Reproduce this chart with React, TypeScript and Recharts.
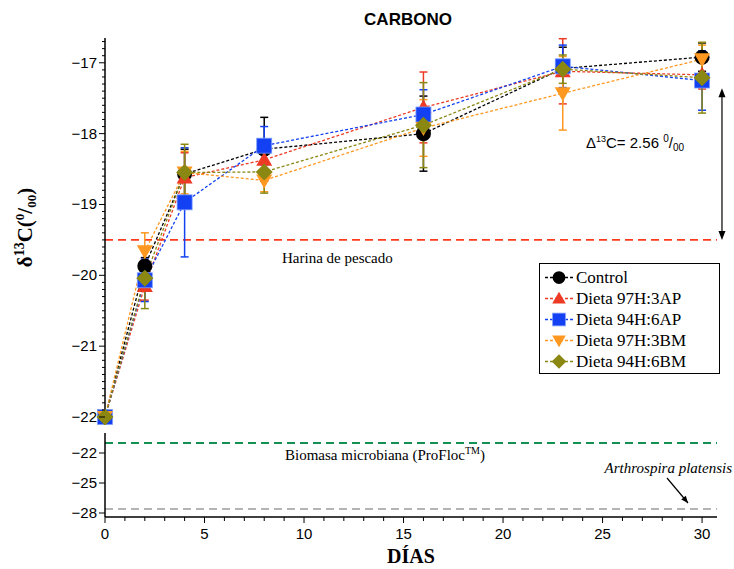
import React from 'react';
import { LineChart, Line, XAxis, YAxis, ReferenceLine, ErrorBar, Legend } from 'recharts';

// días de muestreo
const days = [0, 2, 4, 8, 16, 23, 30];

// valores de δ13C (‰) por dieta, con su desviación
const control = [-22.0, -19.87, -18.57, -18.22, -18.0, -17.08, -16.92];
const controlErr = [0, 0.12, 0.35, 0.45, 0.53, 0.3, 0.2];
const dieta97AP = [-22.0, -20.15, -18.62, -18.37, -17.63, -17.12, -17.17];
const dieta97APErr = [0, 0.2, 0.35, 0.2, 0.5, 0.46, 0.2];
const dieta94AP = [-22.0, -20.07, -18.97, -18.17, -17.73, -17.05, -17.25];
const dieta94APErr = [0, 0.3, 0.77, 0.27, 0.35, 0.3, 0.42];
const dieta97BM = [-22.0, -19.66, -18.55, -18.66, -17.92, -17.43, -16.95];
const dieta97BMErr = [0, 0.26, 0.3, 0.16, 0.4, 0.52, 0.2];
const dieta94BM = [-22.0, -20.04, -18.55, -18.54, -17.88, -17.09, -17.21];
const dieta94BMErr = [0, 0.43, 0.4, 0.3, 0.6, 0.2, 0.5];

// referencias de las fuentes de alimento
const harinaPescado = -19.5;
const biomasaMicrobiana = -21;
const arthrospira = -27.6;
const deltaTop = -17.36;
const deltaValue = '2.56';

const topMajorTicks = [-22, -21, -20, -19, -18, -17];
const bottomTicks = [-22, -25, -28];
const xMajorTicks = [0, 5, 10, 15, 20, 25, 30];

const SERIF = '"Liberation Serif", "Times New Roman", serif';
const SANS = '"Liberation Sans", Arial, Helvetica, sans-serif';

const series = [
  { key: 'control', name: 'Control', color: '#000000', shape: 'circle' },
  { key: 'd97ap', name: 'Dieta 97H:3AP', color: '#ec3a25', shape: 'triangle' },
  { key: 'd94ap', name: 'Dieta 94H:6AP', color: '#1240f2', shape: 'square' },
  { key: 'd97bm', name: 'Dieta 97H:3BM', color: '#ff9820', shape: 'down' },
  { key: 'd94bm', name: 'Dieta 94H:6BM', color: '#8a8712', shape: 'diamond' },
];

const data = days.map((day, i) => ({
  day,
  control: control[i], controlErr: controlErr[i],
  d97ap: dieta97AP[i], d97apErr: dieta97APErr[i],
  d94ap: dieta94AP[i], d94apErr: dieta94APErr[i],
  d97bm: dieta97BM[i], d97bmErr: dieta97BMErr[i],
  d94bm: dieta94BM[i], d94bmErr: dieta94BMErr[i],
}));

// minor ticks every 0.1 on the upper axis
const topTicks: number[] = [];
for (let v = -220; v <= -167; v++) topTicks.push(v / 10);
const xTicks: number[] = [];
for (let d = 0; d <= 30; d++) xTicks.push(d);

const minus = (v: number) => (v < 0 ? '\u2212' + Math.abs(v) : String(v));

const Marker = ({ shape, cx, cy, color, s = 1 }: any) => {
  if (cx == null || cy == null) return null;
  switch (shape) {
    case 'circle':
      return <circle cx={cx} cy={cy} r={7.5 * s} fill={color} />;
    case 'triangle':
      return <polygon points={`${cx},${cy - 8 * s} ${cx + 8 * s},${cy + 6 * s} ${cx - 8 * s},${cy + 6 * s}`} fill={color} />;
    case 'square':
      return <rect x={cx - 7.5 * s} y={cy - 7.5 * s} width={15 * s} height={15 * s} fill={color} stroke="#7d9cff" strokeWidth={0.8} />;
    case 'down':
      return <polygon points={`${cx - 8 * s},${cy - 6 * s} ${cx + 8 * s},${cy - 6 * s} ${cx},${cy + 8 * s}`} fill={color} />;
    default:
      return <polygon points={`${cx},${cy - 8.5 * s} ${cx + 8.5 * s},${cy} ${cx},${cy + 8.5 * s} ${cx - 8.5 * s},${cy}`} fill={color} />;
  }
};

const TopTick = ({ x, y, payload }: any) => {
  const v = payload.value;
  const major = topMajorTicks.includes(v);
  return (
    <g>
      <line x1={x - (major ? 6 : 3)} x2={x} y1={y} y2={y} stroke="#000" strokeWidth={1} />
      {major && (
        <text x={x - 8} y={y + 5} textAnchor="end" fontFamily={SANS} fontSize={15} fill="#000">
          {minus(v)}
        </text>
      )}
    </g>
  );
};

const BottomYTick = ({ x, y, payload }: any) => (
  <g>
    <line x1={x - 6} x2={x} y1={y} y2={y} stroke="#000" strokeWidth={1} />
    <text x={x - 8} y={y + 5} textAnchor="end" fontFamily={SANS} fontSize={15} fill="#000">
      {minus(payload.value)}
    </text>
  </g>
);

const XTick = ({ x, y, payload }: any) => {
  const major = xMajorTicks.includes(payload.value);
  return (
    <g>
      <line x1={x} x2={x} y1={y} y2={y + (major ? 6 : 4)} stroke="#000" strokeWidth={1} />
      {major && (
        <text x={x} y={y + 22} textAnchor="middle" fontFamily={SANS} fontSize={15} fill="#000">
          {payload.value}
        </text>
      )}
    </g>
  );
};

const YLabel = ({ viewBox }: any) => {
  const cx = 32;
  const cy = viewBox ? viewBox.y + viewBox.height / 2 : 228;
  return (
    <text x={cx} y={cy} transform={`rotate(-90 ${cx} ${cy})`} textAnchor="middle" fontFamily={SERIF} fontWeight="bold" fontSize={21} fill="#000">
      δ<tspan fontSize={14} dy={-8}>13</tspan>
      <tspan dy={8}>C(</tspan>
      <tspan fontSize={13} dy={-8}>0</tspan>
      <tspan dy={8}>/</tspan>
      <tspan fontSize={13} dy={4}>00</tspan>
      <tspan dy={-4}>)</tspan>
    </text>
  );
};

const XLabel = ({ viewBox }: any) => {
  if (!viewBox) return null;
  return (
    <text x={viewBox.x + viewBox.width / 2} y={viewBox.y + 46} textAnchor="middle" fontFamily={SERIF} fontWeight="bold" fontSize={20} fill="#000">
      DÍAS
    </text>
  );
};

const HarinaLabel = ({ viewBox }: any) => {
  if (!viewBox) return null;
  return (
    <text x={viewBox.x + 177} y={viewBox.y + 23} fontFamily={SERIF} fontSize={15} fill="#000">
      Harina de pescado
    </text>
  );
};

const BiomasaLabel = ({ viewBox }: any) => {
  if (!viewBox) return null;
  return (
    <text x={viewBox.x + 180} y={viewBox.y + 17} fontFamily={SERIF} fontSize={15} fill="#000">
      Biomasa microbiana (ProFloc<tspan fontSize={10} dy={-6}>TM</tspan>
      <tspan dy={6}>)</tspan>
    </text>
  );
};

const ArthrospiraLabel = ({ viewBox }: any) => {
  if (!viewBox) return null;
  const right = viewBox.x + viewBox.width;
  const y = viewBox.y;
  const ax1 = right - 50, ay1 = y - 31, ax2 = right - 29, ay2 = y - 6;
  const ang = Math.atan2(ay2 - ay1, ax2 - ax1);
  const hl = 7, hw = 3;
  const p1 = [ax2 - hl * Math.cos(ang) + hw * Math.sin(ang), ay2 - hl * Math.sin(ang) - hw * Math.cos(ang)];
  const p2 = [ax2 - hl * Math.cos(ang) - hw * Math.sin(ang), ay2 - hl * Math.sin(ang) + hw * Math.cos(ang)];
  return (
    <g>
      <text x={right + 15} y={y - 36} textAnchor="end" fontFamily={SERIF} fontStyle="italic" fontSize={15} fill="#000">
        Arthrospira platensis
      </text>
      <line x1={ax1} y1={ay1} x2={ax2} y2={ay2} stroke="#000" strokeWidth={1.2} />
      <polygon points={`${ax2},${ay2} ${p1[0]},${p1[1]} ${p2[0]},${p2[1]}`} fill="#000" />
    </g>
  );
};

const DeltaArrow = (props: any) => {
  const { x1, y1, y2 } = props;
  const top = Math.min(y1, y2);
  const bot = Math.max(y1, y2);
  const mid = (top + bot) / 2;
  return (
    <g>
      <line x1={x1} x2={x1} y1={top + 4} y2={bot - 4} stroke="#000" strokeWidth={1.2} />
      <polygon points={`${x1},${top} ${x1 - 3.5},${top + 9} ${x1 + 3.5},${top + 9}`} fill="#000" />
      <polygon points={`${x1},${bot} ${x1 - 3.5},${bot - 9} ${x1 + 3.5},${bot - 9}`} fill="#000" />
      <text x={x1 - 136} y={mid - 16} fontFamily={SANS} fontSize={15} fill="#000">
        Δ<tspan fontSize={9} dy={-6}>13</tspan>
        <tspan dy={6}>C= {deltaValue} </tspan>
        <tspan fontSize={10} dy={-6}>0</tspan>
        <tspan dy={6}>/</tspan>
        <tspan fontSize={10} dy={3}>00</tspan>
      </text>
    </g>
  );
};

const LegendBox = () => (
  <div style={{ width: 181, height: 111, border: '1.5px solid #000', boxSizing: 'border-box', background: '#fff', paddingTop: 3 }}>
    {series.map((s) => (
      <div key={s.key} style={{ display: 'flex', alignItems: 'center', height: 21 }}>
        <svg width={36} height={21} style={{ flex: 'none' }}>
          <line x1={5} x2={33} y1={10.5} y2={10.5} stroke={s.color} strokeWidth={1.3} strokeDasharray="3 2" />
          <Marker shape={s.shape} cx={19} cy={10.5} color={s.color} s={0.85} />
        </svg>
        <span style={{ fontFamily: SERIF, fontSize: 17, color: '#000', lineHeight: '21px', whiteSpace: 'nowrap' }}>{s.name}</span>
      </div>
    ))}
  </div>
);

export default function App() {
  return (
    <div style={{ position: 'absolute', left: 0, top: 0, width: 734, height: 569, background: '#fff', overflow: 'hidden' }}>
      <svg width={734} height={40} style={{ position: 'absolute', left: 0, top: 0 }}>
        <text x={408} y={25} textAnchor="middle" fontFamily={SANS} fontWeight="bold" fontSize={17} fill="#000">
          CARBONO
        </text>
      </svg>

      <div style={{ position: 'absolute', left: 0, top: 0 }}>
        <LineChart width={734} height={425} data={data} margin={{ top: 38, right: 17, bottom: 8, left: 0 }}>
          <XAxis dataKey="day" type="number" domain={[0, 30.75]} hide />
          <YAxis
            type="number"
            domain={[-22, -16.65]}
            ticks={topTicks}
            interval={0}
            width={105}
            tickSize={0}
            tickMargin={0}
            tickLine={false}
            tick={<TopTick />}
            axisLine={{ stroke: '#000', strokeWidth: 1.5 }}
            label={<YLabel />}
          />
          <ReferenceLine y={harinaPescado} stroke="#ff3a1c" strokeWidth={1.8} strokeDasharray="8 5" label={<HarinaLabel />} />
          <ReferenceLine
            segment={[{ x: 31, y: deltaTop }, { x: 31, y: harinaPescado }]}
            ifOverflow="visible"
            shape={DeltaArrow}
          />
          {series.map((s) => (
            <Line
              key={s.key}
              name={s.name}
              dataKey={s.key}
              type="linear"
              stroke={s.color}
              strokeWidth={1.3}
              strokeDasharray="3 2"
              isAnimationActive={false}
              activeDot={false}
              dot={(p: any) => <Marker key={`${s.key}-${p.index}`} shape={s.shape} cx={p.cx} cy={p.cy} color={s.color} />}
            >
              <ErrorBar dataKey={`${s.key}Err`} width={4} stroke={s.color} strokeWidth={1.5} direction="y" isAnimationActive={false} />
            </Line>
          ))}
          <Legend
            layout="vertical"
            align="center"
            verticalAlign="middle"
            content={<LegendBox />}
            wrapperStyle={{ left: 539, top: 263, width: 181, height: 111 }}
          />
        </LineChart>
      </div>

      <div style={{ position: 'absolute', left: 0, top: 425 }}>
        <LineChart width={734} height={144} data={data} margin={{ top: 8, right: 17, bottom: 0, left: 0 }}>
          <XAxis
            dataKey="day"
            type="number"
            domain={[0, 30.75]}
            ticks={xTicks}
            interval={0}
            height={52}
            tickSize={0}
            tickMargin={0}
            tickLine={false}
            tick={<XTick />}
            axisLine={{ stroke: '#000', strokeWidth: 1.5 }}
            label={<XLabel />}
          />
          <YAxis
            type="number"
            domain={[-28.4, -20]}
            ticks={bottomTicks}
            interval={0}
            width={105}
            tickSize={0}
            tickMargin={0}
            tickLine={false}
            tick={<BottomYTick />}
            axisLine={{ stroke: '#000', strokeWidth: 1.5 }}
            allowDataOverflow
          />
          <ReferenceLine y={biomasaMicrobiana} stroke="#149152" strokeWidth={1.8} strokeDasharray="8 5" label={<BiomasaLabel />} />
          <ReferenceLine y={arthrospira} stroke="#b4b4b4" strokeWidth={1.8} strokeDasharray="8 5" label={<ArthrospiraLabel />} />
        </LineChart>
      </div>
    </div>
  );
}
